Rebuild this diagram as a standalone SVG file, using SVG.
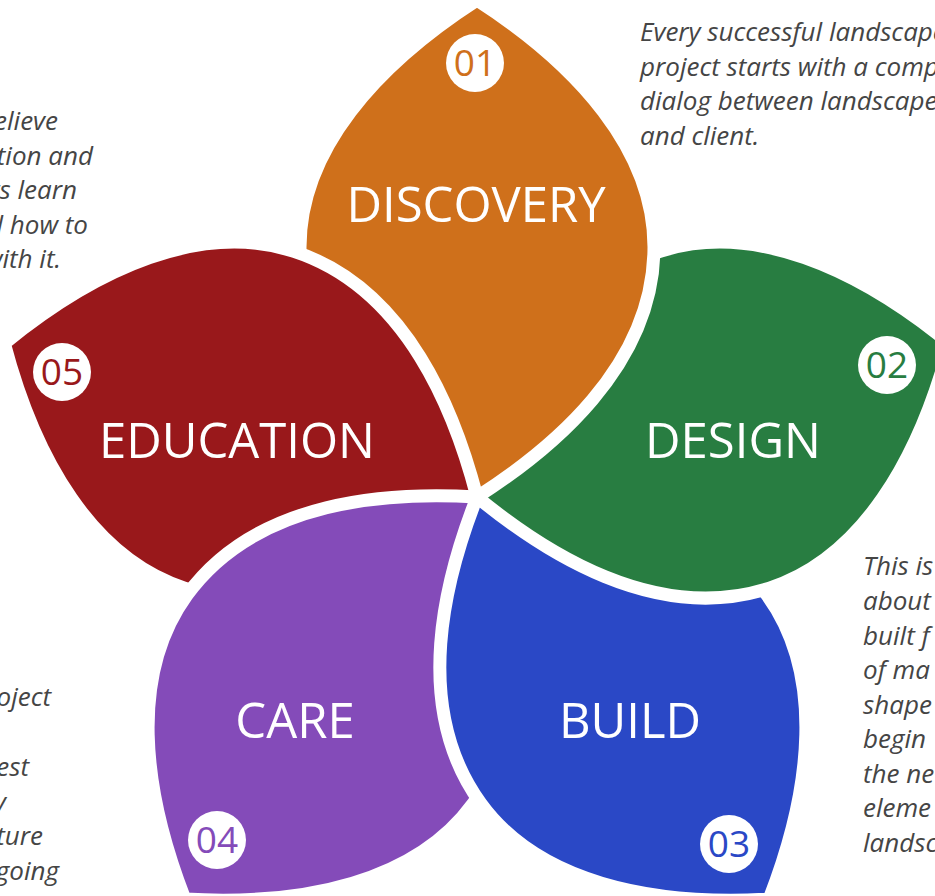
<svg xmlns="http://www.w3.org/2000/svg" width="935" height="896" viewBox="0 0 935 896">
<style>
.petal{stroke:#fff;stroke-width:13;stroke-linejoin:round}
.title{font-family:"Open Sans","Liberation Sans",sans-serif;font-weight:400;font-size:49px;fill:#fff;text-anchor:middle}
.num{font-family:"Open Sans","Liberation Sans",sans-serif;font-weight:400;font-size:37px;text-anchor:middle}
.badge{fill:#fff}
.desc{font-family:"Open Sans","Liberation Sans",sans-serif;font-style:italic;font-size:26px;fill:#454545}
.end{text-anchor:end}
</style>
<defs>
<path id="petal" d="M0,0 C72,-46 177,-130 177,-250 C177,-347 101,-432 0,-497 C-101,-432 -177,-347 -177,-250 C-177,-130 -72,-46 0,0 Z"/>
<mask id="under-red" maskUnits="userSpaceOnUse" x="0" y="0" width="935" height="896">
<rect x="0" y="0" width="935" height="896" fill="#fff"/>
<use href="#petal" transform="translate(477 497) rotate(288)" fill="#000" stroke="#000" stroke-width="13"/>
</mask>
</defs>
<rect x="0" y="0" width="935" height="896" fill="#fff"/>

<g id="education">
<use href="#petal" class="petal" transform="translate(477 497) rotate(288)" fill="#99181B"/>
<circle class="badge" cx="62" cy="372" r="29"/>
<text class="num" x="62" y="385" fill="#99181B">05</text>
<text class="title" x="237" y="458">EDUCATION</text>
<text class="desc end" x="58" y="130">believe</text>
<text class="desc end" x="93" y="165">education and</text>
<text class="desc end" x="77" y="199">clients learn</text>
<text class="desc end" x="88" y="234">and how to</text>
<text class="desc end" x="61" y="268">with it.</text>
</g>

<g id="care">
<use href="#petal" class="petal" transform="translate(477 497) rotate(216)" fill="#844BB9"/>
<circle class="badge" cx="217" cy="840" r="29"/>
<text class="num" x="217" y="853" fill="#844BB9">04</text>
<text class="title" x="295" y="738">CARE</text>
<text class="desc end" x="51" y="706">project</text>
<text class="desc end" x="29" y="776">best</text>
<text class="desc end" x="6" y="811">by</text>
<text class="desc end" x="43" y="845">future</text>
<text class="desc end" x="59" y="880">ongoing</text>
</g>

<g id="build">
<use href="#petal" class="petal" transform="translate(477 497) rotate(144)" fill="#2A48C6"/>
<circle class="badge" cx="729" cy="844" r="29"/>
<text class="num" x="729" y="857" fill="#2A48C6">03</text>
<text class="title" x="630" y="738">BUILD</text>
<text class="desc" x="863" y="575">This is</text>
<text class="desc" x="863" y="610">about</text>
<text class="desc" x="863" y="645">built f</text>
<text class="desc" x="863" y="679">of ma</text>
<text class="desc" x="863" y="714">shape</text>
<text class="desc" x="863" y="748">begin</text>
<text class="desc" x="863" y="783">the ne</text>
<text class="desc" x="863" y="817">eleme</text>
<text class="desc" x="863" y="852">landsc</text>
</g>

<g id="design">
<use href="#petal" class="petal" transform="translate(477 497) rotate(72)" fill="#287D41"/>
<circle class="badge" cx="887" cy="365" r="29"/>
<text class="num" x="887" y="378" fill="#287D41">02</text>
<text class="title" x="733" y="458">DESIGN</text>
</g>

<g id="discovery">
<g mask="url(#under-red)">
<use href="#petal" class="petal" transform="translate(477 497)" fill="#CF701B"/>
</g>
<circle class="badge" cx="475" cy="63" r="29"/>
<text class="num" x="475" y="76" fill="#CF701B">01</text>
<text class="title" x="476" y="222">DISCOVERY</text>
<text class="desc" x="640" y="41">Every successful landscape</text>
<text class="desc" x="640" y="76">project starts with a comprehensive</text>
<text class="desc" x="640" y="110">dialog between landscaper</text>
<text class="desc" x="640" y="145">and client.</text>
</g>
</svg>
